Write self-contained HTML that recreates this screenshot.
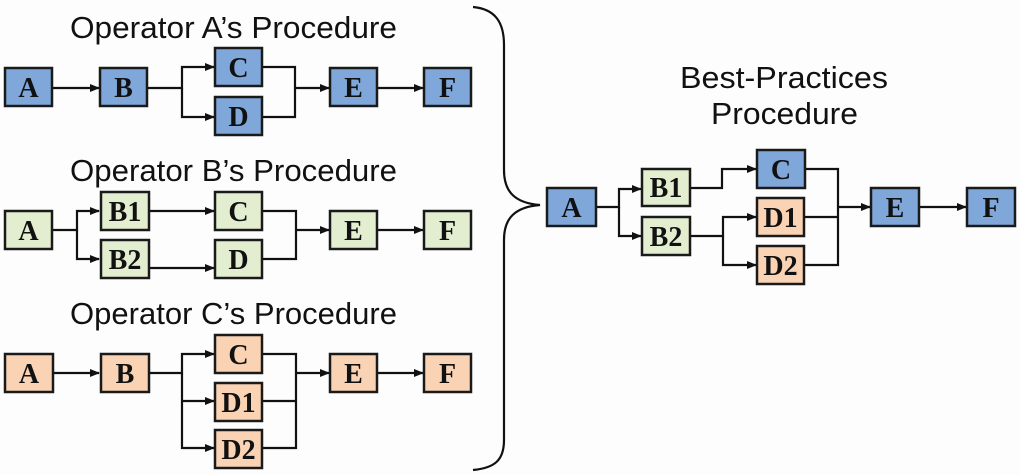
<!DOCTYPE html>
<html><head><meta charset="utf-8"><style>
html,body{margin:0;padding:0;background:#fdfdfd;}
svg{display:block;}
.t{font-family:"Liberation Sans",sans-serif;font-size:31px;fill:#111;}
.b{font-family:"Liberation Serif",serif;font-weight:bold;font-size:28px;fill:#111;text-anchor:middle;}
.bl{fill:#7fa7d9;stroke:#1a1a1a;stroke-width:2.5;}
.gr{fill:#e3eed0;stroke:#1a1a1a;stroke-width:2.5;}
.or{fill:#f9d3b4;stroke:#1a1a1a;stroke-width:2.5;}
.l{fill:none;stroke:#111;stroke-width:2.2;}
</style></head><body>
<svg width="1020" height="475" viewBox="0 0 1020 475" xmlns="http://www.w3.org/2000/svg">
<defs><marker id="ar" markerWidth="10" markerHeight="8" refX="9" refY="4" orient="auto" markerUnits="userSpaceOnUse"><path d="M0,0 L10,4 L0,8 z" fill="#111"/></marker></defs>

<text class="t" x="70" y="38" textLength="327" lengthAdjust="spacingAndGlyphs">Operator A’s Procedure</text>
<text class="t" x="70" y="181" textLength="327" lengthAdjust="spacingAndGlyphs">Operator B’s Procedure</text>
<text class="t" x="70" y="324" textLength="327" lengthAdjust="spacingAndGlyphs">Operator C’s Procedure</text>
<text class="t" x="680" y="88" textLength="208" lengthAdjust="spacingAndGlyphs">Best-Practices</text>
<text class="t" x="711" y="124" textLength="147" lengthAdjust="spacingAndGlyphs">Procedure</text>

<g>
<path class="l" d="M52,88 H99" marker-end="url(#ar)"/>
<path class="l" d="M147,88 H182 V67 H214" marker-end="url(#ar)"/>
<path class="l" d="M182,88 V117 H214" marker-end="url(#ar)"/>
<path class="l" d="M262,67 H295 V117 H262"/>
<path class="l" d="M295,88 H329" marker-end="url(#ar)"/>
<path class="l" d="M377,88 H423" marker-end="url(#ar)"/>
<rect class="bl" x="5" y="68" width="47" height="38"/><text class="b" x="28.5" y="97">A</text>
<rect class="bl" x="100" y="68" width="47" height="38"/><text class="b" x="123.5" y="97">B</text>
<rect class="bl" x="215" y="48" width="47" height="38"/><text class="b" x="238.5" y="77">C</text>
<rect class="bl" x="215" y="97" width="47" height="38"/><text class="b" x="238.5" y="126">D</text>
<rect class="bl" x="330" y="68" width="47" height="38"/><text class="b" x="353.5" y="97">E</text>
<rect class="bl" x="424" y="68" width="47" height="38"/><text class="b" x="447.5" y="97">F</text>
</g>

<g>
<path class="l" d="M52,230 H77 V211 H99" marker-end="url(#ar)"/>
<path class="l" d="M77,230 V259 H99" marker-end="url(#ar)"/>
<path class="l" d="M149,211 H214" marker-end="url(#ar)"/>
<path class="l" d="M149,268 H214" marker-end="url(#ar)"/>
<path class="l" d="M262,211 H296 V259 H262"/>
<path class="l" d="M296,230 H329" marker-end="url(#ar)"/>
<path class="l" d="M377,230 H423" marker-end="url(#ar)"/>
<rect class="gr" x="5" y="211" width="47" height="38"/><text class="b" x="28.5" y="240">A</text>
<rect class="gr" x="101" y="192" width="48" height="38"/><text class="b" x="125" y="221">B1</text>
<rect class="gr" x="101" y="240" width="48" height="38"/><text class="b" x="125" y="269">B2</text>
<rect class="gr" x="215" y="192" width="47" height="38"/><text class="b" x="238.5" y="221">C</text>
<rect class="gr" x="215" y="240" width="47" height="38"/><text class="b" x="238.5" y="269">D</text>
<rect class="gr" x="330" y="211" width="47" height="38"/><text class="b" x="353.5" y="240">E</text>
<rect class="gr" x="424" y="211" width="47" height="38"/><text class="b" x="447.5" y="240">F</text>
</g>

<g>
<path class="l" d="M53,373 H99" marker-end="url(#ar)"/>
<path class="l" d="M149,373 H182 V354 H214" marker-end="url(#ar)"/>
<path class="l" d="M182,373 V448 H214" marker-end="url(#ar)"/>
<path class="l" d="M182,401 H214" marker-end="url(#ar)"/>
<path class="l" d="M262,354 H296 V448 H262"/>
<path class="l" d="M262,401 H296"/>
<path class="l" d="M296,373 H329" marker-end="url(#ar)"/>
<path class="l" d="M377,373 H423" marker-end="url(#ar)"/>
<rect class="or" x="5" y="354" width="48" height="38"/><text class="b" x="29" y="383">A</text>
<rect class="or" x="101" y="354" width="48" height="38"/><text class="b" x="125" y="383">B</text>
<rect class="or" x="215" y="335" width="47" height="38"/><text class="b" x="238.5" y="364">C</text>
<rect class="or" x="215" y="383" width="47" height="38"/><text class="b" x="238.5" y="412">D1</text>
<rect class="or" x="215" y="430" width="47" height="38"/><text class="b" x="238.5" y="459">D2</text>
<rect class="or" x="330" y="354" width="47" height="38"/><text class="b" x="353.5" y="383">E</text>
<rect class="or" x="424" y="354" width="47" height="38"/><text class="b" x="447.5" y="383">F</text>
</g>

<path class="l" stroke-width="2.5" d="M473,7 C495,9 504,22 504,45 V170 C504,192 515,203 540,205 C515,207 504,218 504,240 V440 C504,460 495,468 473,470"/>

<g>
<path class="l" d="M596,207 H619 V189 H641" marker-end="url(#ar)"/>
<path class="l" d="M619,207 V236 H641" marker-end="url(#ar)"/>
<path class="l" d="M690,188 H722 V169 H756" marker-end="url(#ar)"/>
<path class="l" d="M690,236 H723 V217 H756" marker-end="url(#ar)"/>
<path class="l" d="M723,236 V265 H756" marker-end="url(#ar)"/>
<path class="l" d="M805,169 H838 V265 H804"/>
<path class="l" d="M804,217 H838"/>
<path class="l" d="M838,207 H870" marker-end="url(#ar)"/>
<path class="l" d="M919,207 H966" marker-end="url(#ar)"/>
<rect class="bl" x="547" y="188" width="49" height="38"/><text class="b" x="571.5" y="217">A</text>
<rect class="gr" x="642" y="169" width="48" height="37"/><text class="b" x="666" y="197">B1</text>
<rect class="gr" x="642" y="217" width="48" height="38"/><text class="b" x="666" y="246">B2</text>
<rect class="bl" x="757" y="150" width="48" height="38"/><text class="b" x="781" y="179">C</text>
<rect class="or" x="757" y="198" width="47" height="38"/><text class="b" x="780.5" y="227">D1</text>
<rect class="or" x="757" y="246" width="47" height="38"/><text class="b" x="780.5" y="275">D2</text>
<rect class="bl" x="871" y="188" width="48" height="38"/><text class="b" x="895" y="217">E</text>
<rect class="bl" x="967" y="188" width="48" height="38"/><text class="b" x="991" y="217">F</text>
</g>
</svg>
</body></html>
